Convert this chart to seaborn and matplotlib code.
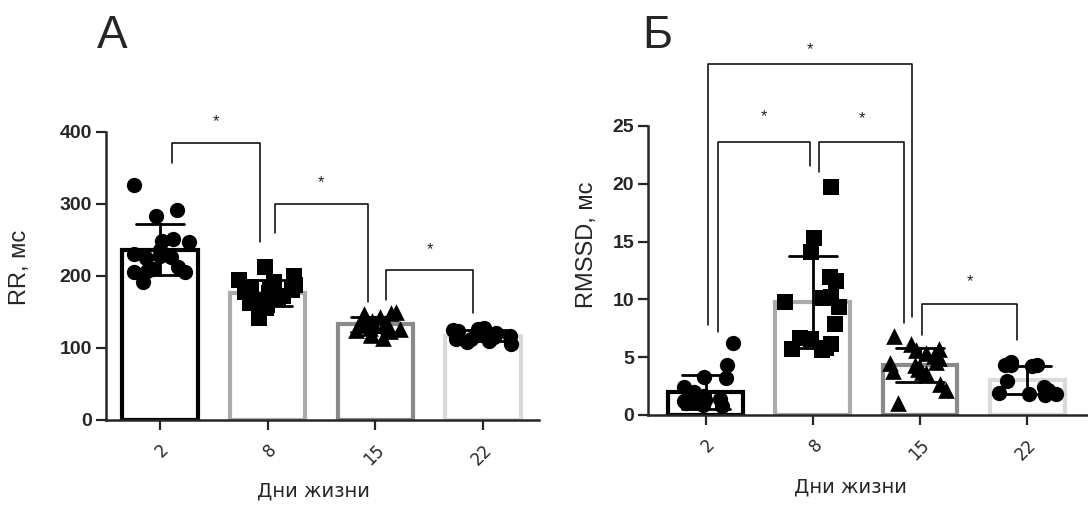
import numpy as np
import pandas as pd
import matplotlib
matplotlib.use('Agg')
import matplotlib.pyplot as plt
import seaborn as sns

# ------------------ данные ------------------
days = ['2', '8', '15', '22']
markers = ['o', 's', '^', 'o']
edge_colors = ['#000000', '#ababab', '#8a8a8a', '#dadada']

# A: RR, мс
rr_day2 = [327, 291, 284, 251, 247, 248, 236, 230, 225, 228, 226, 212, 210, 205, 207, 206, 192]
rr_day8 = [213, 200, 195, 192, 188, 185, 182, 180, 178, 176, 172, 170, 166, 163, 160, 158, 155, 142]
rr_day15 = [150, 148, 147, 143, 140, 138, 136, 135, 133, 132, 130, 128, 127, 125, 123, 120, 118, 114]
rr_day22 = [128, 127, 125, 123, 121, 120, 118, 117, 115, 113, 112, 110, 108, 105]

# Б: RMSSD, мс
rmssd_day2 = [6.2, 4.3, 3.3, 3.2, 2.4, 2.0, 1.6, 1.4, 1.3, 1.2, 1.2, 1.1, 1.1, 1.0, 1.0, 0.9, 0.8]
rmssd_day8 = [19.7, 15.3, 14.1, 11.9, 11.6, 10.1, 10.2, 9.3, 9.8, 7.9, 6.7, 6.6, 6.1, 5.8, 5.7, 5.6]
rmssd_day15 = [6.8, 6.1, 5.7, 5.6, 5.4, 5.1, 4.9, 4.6, 4.5, 4.3, 4.0, 3.8, 3.7, 3.6, 2.7, 2.2, 1.0]
rmssd_day22 = [4.6, 4.3, 4.3, 4.3, 4.2, 2.9, 2.4, 2.2, 1.9, 1.8, 1.7, 1.8]

# скобки значимости: (x_left, x_right, y_left_end, y_top, y_right_end, y_star)
brackets_a = [(0.11, 0.93, 357, 385, 247, 414),
              (1.07, 1.93, 260, 300, 164, 329),
              (2.10, 2.91, 167, 208, 149, 236)]
brackets_b = [(0.02, 1.93, 7.8, 30.4, 8.5, 31.6),
              (0.11, 0.97, 7.2, 23.6, 21.5, 25.8),
              (1.06, 1.85, 21.0, 23.6, 8.0, 25.6),
              (2.02, 2.91, 6.9, 9.6, 6.5, 11.5)]


def make_df(groups):
    rows = []
    for d, vals in zip(days, groups):
        for v in vals:
            rows.append({'day': d, 'val': v})
    return pd.DataFrame(rows)


sns.set_style('ticks')
plt.rcParams['font.family'] = ['Liberation Sans', 'DejaVu Sans']
np.random.seed(7)

fig = plt.figure(figsize=(10.88, 5.09), dpi=100)
ax_a = fig.add_axes([0.0974, 0.1749, 0.398, 0.5658])
ax_b = fig.add_axes([0.5956, 0.1847, 0.4035, 0.5678])


def draw_panel(ax, groups, ylim, yticks, ylabel, brackets, xlim):
    df = make_df(groups)
    sns.barplot(data=df, x='day', y='val', hue='day', order=days, hue_order=days,
                palette=edge_colors, fill=False, linewidth=3, width=0.7,
                errorbar='sd', capsize=0.45,
                err_kws={'color': 'black', 'linewidth': 2, 'zorder': 5},
                legend=False, ax=ax)
    for d, m in zip(days, markers):
        sub = df[df['day'] == d]
        sns.stripplot(data=sub, x='day', y='val', order=days, marker=m, color='black',
                      size=11 if m != '^' else 12, jitter=0.28, linewidth=0, ax=ax, zorder=3)
    for x1, x2, yl, yt, yr, ys in brackets:
        ax.plot([x1, x1, x2, x2], [yl, yt, yt, yr], color='black', lw=1.1, clip_on=False)
        ax.text((x1 + x2) / 2, ys, '*', ha='center', va='center', fontsize=12, clip_on=False)
    ax.set_xlim(*xlim)
    ax.set_ylim(*ylim)
    ax.set_yticks(yticks)
    ax.set_yticklabels([str(t) for t in yticks], fontsize=14, fontweight='bold')
    ax.set_xticks(range(len(days)))
    ax.set_xticklabels(days, rotation=45, ha='right', va='top', rotation_mode='anchor',
                       fontsize=12, family='DejaVu Sans')
    ax.set_ylabel(ylabel, fontsize=17)
    ax.set_xlabel('Дни жизни', fontsize=14, family='DejaVu Sans')
    sns.despine(ax=ax)
    for s in ['left', 'bottom']:
        ax.spines[s].set_linewidth(1.8)
    ax.tick_params(axis='both', width=1.6, length=7, pad=3)
    ax.tick_params(axis='x', pad=8)


draw_panel(ax_a, [rr_day2, rr_day8, rr_day15, rr_day22], (0, 400), [0, 100, 200, 300, 400],
           'RR, мс', brackets_a, (-0.5, 3.52))
draw_panel(ax_b, [rmssd_day2, rmssd_day8, rmssd_day15, rmssd_day22], (0, 25), [0, 5, 10, 15, 20, 25],
           'RMSSD, мс', brackets_b, (-0.54, 3.56))

ax_a.yaxis.set_label_coords(-0.173, 0.53)
ax_b.yaxis.set_label_coords(-0.114, 0.59)
ax_a.xaxis.set_label_coords(0.478, -0.215)
ax_b.xaxis.set_label_coords(0.46, -0.218)

fig.text(112 / 1088, 1 - 48 / 509, 'А', ha='center', va='baseline', fontsize=33)
fig.text(657 / 1088, 1 - 48 / 509, 'Б', ha='center', va='baseline', fontsize=33)

plt.savefig('out.png', dpi=100)
plt.close()
